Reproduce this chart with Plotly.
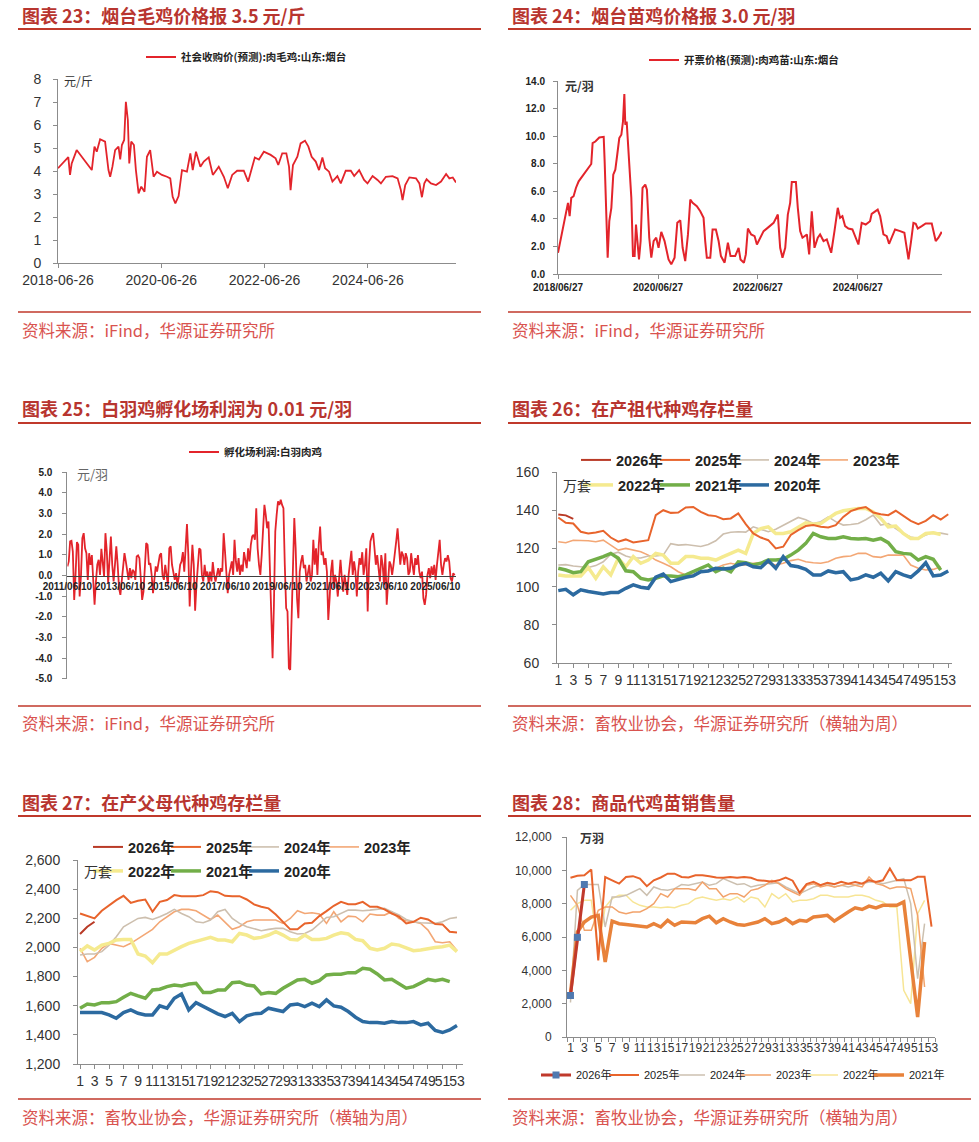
import plotly.graph_objects as go
import pandas as pd

# ---------------- DATA ----------------
# Panel 23: 社会收购价(预测):肉毛鸡:山东:烟台 (元/斤)
p23_dates = ["2018-06-26","2018-09-07","2018-09-19","2018-10-01","2018-11-05","2019-02-20","2019-03-11","2019-03-27","2019-04-20","2019-05-25",
             "2019-06-18","2019-06-30","2019-07-16","2019-08-04","2019-08-28","2019-09-09","2019-09-21","2019-10-07","2019-10-19","2019-11-02",
             "2019-11-12","2019-11-26","2019-12-15","2019-12-29","2020-01-17","2020-02-05","2020-02-28","2020-03-16","2020-04-08","2020-04-20",
             "2020-05-02","2020-05-26","2020-06-30","2020-08-05","2020-08-28","2020-09-14","2020-10-03","2020-10-26","2020-11-19","2020-12-24",
             "2021-01-17","2021-02-03","2021-02-26","2021-03-29","2021-04-22","2021-05-27","2021-06-25","2021-08-06","2021-09-11","2021-10-09",
             "2021-11-09","2021-12-14","2022-01-30","2022-03-02","2022-04-18","2022-05-17","2022-06-21","2022-08-08","2022-09-12","2022-10-01",
             "2022-10-29","2022-11-27","2022-12-16","2022-12-27","2023-01-13","2023-02-13","2023-03-08","2023-04-08","2023-05-02","2023-05-25",
             "2023-06-23","2023-07-16","2023-08-09","2023-08-28","2023-09-25","2023-10-19","2023-11-23","2023-12-17","2024-01-21","2024-02-26",
             "2024-03-21","2024-04-25","2024-05-30","2024-06-23","2024-07-29","2024-09-02","2024-09-26","2024-10-31","2024-12-17","2025-01-22",
             "2025-02-14","2025-02-26","2025-03-17","2025-04-15","2025-06-01","2025-06-25","2025-07-13","2025-07-30","2025-08-15","2025-09-15",
             "2025-10-21","2025-11-25","2025-12-31","2026-01-23","2026-02-16","2026-03-11"]
p23_vals = [4.12,4.6,3.83,4.33,4.91,4.04,5.06,4.84,5.38,5.28,
            4.04,3.75,4.19,4.91,5.06,4.5,5.13,5.35,7.01,6.22,
            4.33,5.28,5.13,4.04,3.03,3.32,3.1,4.62,4.91,4.41,
            3.75,3.97,3.83,3.75,3.68,2.88,2.59,2.91,4.04,3.97,
            4.77,4.04,4.84,4.19,4.41,4.59,3.83,4.19,3.75,3.25,
            3.83,4.01,4.01,3.54,4.59,4.5,4.84,4.7,4.55,4.26,
            4.77,4.77,4.19,3.17,4.26,4.62,5.2,5.32,5.06,4.62,
            4.41,4.04,4.59,4.12,3.97,3.54,3.78,3.46,4.01,4.01,
            3.78,4.04,3.61,3.46,3.78,3.61,3.46,3.75,3.78,3.68,
            3.17,2.74,3.39,3.72,3.68,3.46,2.86,3.46,3.64,3.46,
            3.39,3.54,3.87,3.68,3.72,3.5]
p23_ticks = ["2018-06-26","2020-06-26","2022-06-26","2024-06-26"]

# Panel 24: 开票价格(预测):肉鸡苗:山东:烟台 (元/羽)
p24_dates = ["2018-06-27","2018-09-08","2018-09-20","2018-10-02","2018-10-19","2018-11-05","2018-11-25","2019-02-25","2019-03-07","2019-03-27",
             "2019-04-25","2019-05-27","2019-06-03","2019-06-25","2019-07-07","2019-07-22","2019-08-05","2019-08-20","2019-09-03","2019-09-18",
             "2019-10-03","2019-10-15","2019-10-25","2019-11-01","2019-11-11","2019-11-20","2019-12-02","2019-12-15","2019-12-27","2020-01-08",
             "2020-01-18","2020-01-30","2020-02-09","2020-02-21","2020-03-06","2020-03-26","2020-04-07","2020-04-24","2020-05-09","2020-05-26",
             "2020-06-14","2020-07-01","2020-07-21","2020-08-14","2020-09-12","2020-10-02","2020-10-26","2020-11-15","2020-12-07","2020-12-24",
             "2021-01-12","2021-02-01","2021-02-18","2021-03-07","2021-04-07","2021-05-02","2021-05-26","2021-06-07","2021-06-19","2021-07-14",
             "2021-07-31","2021-08-24","2021-09-13","2021-09-30","2021-10-27","2021-11-20","2021-12-09","2022-01-12","2022-02-06","2022-02-20",
             "2022-03-17","2022-03-31","2022-04-15","2022-05-09","2022-06-03","2022-06-20","2022-07-14","2022-08-08","2022-09-13","2022-10-20",
             "2022-11-20","2022-12-07","2022-12-24","2023-01-13","2023-02-01","2023-02-18","2023-03-02","2023-04-01","2023-04-15","2023-05-02",
             "2023-05-19","2023-06-20","2023-07-07","2023-07-26","2023-08-15","2023-09-08","2023-09-25","2023-10-20","2023-11-13","2023-12-15",
             "2024-01-08","2024-02-01","2024-02-18","2024-03-06","2024-03-26","2024-04-19","2024-05-18","2024-06-14","2024-07-01","2024-07-25",
             "2024-08-23","2024-09-24","2024-10-06","2024-11-19","2024-12-07","2024-12-31","2025-01-24","2025-02-10","2025-03-07","2025-03-26",
             "2025-05-02","2025-06-02","2025-06-19","2025-07-02","2025-07-21","2025-08-07","2025-08-24","2025-09-08","2025-10-07","2025-11-05",
             "2025-12-19","2025-12-31","2026-01-17","2026-02-06","2026-03-02"]
p24_vals = [1.54,5.16,4.19,5.52,5.64,6.24,6.72,7.98,9.49,9.61,
            9.9,9.95,8.17,1.18,3.83,4.8,7.2,7.57,8.65,9.86,
            10.1,11.06,13.06,10.82,11.06,9.61,7.2,5.52,1.3,1.3,
            3.59,1.9,1.06,2.39,6.24,6.48,6.12,2.63,1.18,2.39,
            2.63,1.9,3.06,2.39,1.06,0.7,1.18,3.71,3.9,1.9,
            0.94,2.87,5.4,5.16,4.92,4.55,4.07,2.39,1.18,1.18,
            3.23,3.23,2.39,1.3,0.82,2.27,1.3,1.3,1.9,1.06,
            0.82,1.42,3.3,2.87,2.75,2.14,2.63,3.11,3.4,3.71,
            4.31,1.9,1.18,1.9,4.31,5.16,6.67,6.67,4.8,3.11,
            2.63,2.87,1.42,4.55,1.9,2.63,2.87,2.39,2.51,1.54,
            3.11,4.8,4.07,4.19,3.47,3.3,3.23,2.63,2.14,3.71,
            3.59,3.83,4.36,4.67,4.19,2.87,2.75,2.19,2.87,3.23,
            3.11,2.99,1.9,1.06,2.39,3.71,3.64,3.3,3.47,3.66,
            3.66,3.11,2.39,2.63,3.06]
p24_ticks = ["2018-06-27","2020-06-27","2022-06-27","2024-06-27"]

# Panel 25: 孵化场利润:白羽肉鸡 (元/羽), sampled evenly from 2011-06-10 to 2026-03
p25_start, p25_end = "2011-06-10", "2026-03-05"
p25_vals = [0.44,0.68,1.65,1.68,1.16,-1.18,0.03,1.62,1.49,-1.02,0.0,1.81,2.05,1.32,1.08,-0.21,1.08,0.52,0.99,-0.45,
            -1.42,-0.29,0.52,0.76,0.03,1.29,0.52,-0.05,2.05,1.16,-0.37,1.16,1.89,0.52,-0.29,0.52,1.41,0.52,-0.61,-0.94,
            -0.13,0.52,1.08,0.68,0.19,-0.21,0.36,-0.13,0.27,0.19,-0.21,0.92,0.97,0.84,-0.13,-1.18,-0.78,0.68,1.57,1.49,
            0.52,0.6,0.03,-0.86,-0.13,0.44,0.19,0.52,0.99,1.08,0.03,-0.21,0.52,0.03,-0.45,1.32,1.41,0.52,0.19,-0.21,
            0.11,-0.45,-0.05,0.52,0.68,1.13,0.19,1.16,2.49,0.99,-1.5,0.19,1.49,0.52,-1.71,-0.45,0.52,1.32,1.24,0.03,
            -0.29,0.52,-0.05,0.19,-0.37,0.19,-0.29,0.65,0.03,-0.29,0.03,0.36,-0.05,0.36,0.19,2.05,1.16,-0.13,-0.86,0.03,
            0.36,0.68,0.03,1.73,0.68,0.19,0.84,0.03,0.52,0.19,1.13,0.68,0.36,1.32,0.68,
            1.49,1.89,1.97,1.73,3.26,1.32,0.52,0.03,0.99,2.54,3.42,2.94,2.29,2.62,0.52,-1.1,-4.01,-1.42,2.13,2.94,
            3.59,3.42,3.67,3.42,3.26,0.52,-1.58,-1.74,-4.49,-4.57,-2.39,0.99,2.78,1.32,-1.1,-2.07,0.19,0.68,0.99,0.36,
            0.52,-0.29,0.11,0.52,-0.29,0.03,1.73,0.52,1.32,0.03,1.49,2.37,0.99,1.16,0.52,0.84,0.19,-2.15,-1.1,0.19,
            0.76,-0.61,0.03,-0.29,-1.02,0.19,0.76,-0.13,-0.78,0.03,-0.45,-0.94,0.03,0.68,1.2,0.03,0.68,0.19,-1.02,0.19,
            0.84,0.52,1.13,0.03,0.52,1.32,-1.74,0.52,1.65,1.89,2.05,1.32,0.52,0.99,0.19,-0.29,0.99,0.52,-0.45,1.08,
            -1.42,-0.13,0.68,0.52,0.03,0.52,0.99,1.65,2.29,1.49,0.52,1.16,0.99,0.52,1.08,0.84,0.03,0.19,1.08,0.52,
            0.03,0.84,0.52,0.99,0.19,-0.13,0.19,-1.1,-1.42,-0.94,0.03,0.36,-0.13,0.44,0.03,0.52,-0.21,0.52,1.16,1.73,
            0.52,0.03,0.52,0.84,0.68,0.99,0.68,-0.13,-0.29,0.11,0.01]
p25_ticks = ["2011-06-10","2013-06-10","2015-06-10","2017-06-10","2019-06-10","2021-06-10","2023-06-10","2025-06-10"]

years = ["2026年","2025年","2024年","2023年","2022年","2021年","2020年"]
weeks = list(range(1, 54))

# Panel 26: 在产祖代种鸡存栏量 (万套), by week
gp = {
 "2026年": [137.8,137.3,135.5],
 "2025年": [136.2,133.4,133.0,128.7,127.8,128.3,129.2,125.7,123.5,124.7,123.1,123.8,124.3,137.4,140.0,138.6,138.8,141.4,141.7,139.1,
            137.4,136.9,135.3,135.7,138.3,132.7,127.8,125.7,124.3,120.0,120.9,127.0,129.6,131.7,132.2,131.3,131.0,132.2,136.5,139.5,
            140.9,141.7,138.8,137.9,137.4,139.7,137.0,134.4,132.7,134.4,137.4,135.1,137.9],
 "2024年": [111.3,111.5,110.8,110.4,110.0,111.0,113.0,117.0,118.0,116.0,115.0,115.0,116.0,116.0,116.5,122.5,121.7,122.0,121.5,121.0,
            122.0,124.0,127.5,128.5,128.7,128.5,131.3,130.0,128.7,130.0,132.0,134.0,136.2,135.0,133.0,134.0,136.5,134.0,132.2,132.5,
            133.0,135.0,137.4,132.2,133.0,130.4,127.8,126.0,125.2,127.0,128.3,128.0,127.3],
 "2023年": [123.5,123.0,124.3,124.3,124.0,123.5,124.3,121.7,119.1,120.0,119.1,118.3,116.5,113.9,112.2,110.4,107.8,106.1,106.1,107.8,
            108.7,109.6,111.3,112.2,111.3,111.3,112.2,112.5,112.2,111.3,112.2,113.6,114.3,113.0,112.5,112.2,113.0,114.8,115.7,116.0,
            117.4,117.4,115.7,115.3,116.5,116.5,116.5,111.3,109.6,108.7,109.0,110.4],
 "2022年": [106.1,105.6,105.6,105.6,110.0,104.3,110.4,106.1,114.8,110.4,115.7,112.2,113.9,117.4,116.5,112.2,112.2,115.7,115.7,114.8,
            114.8,113.9,115.7,117.4,119.1,117.4,127.8,130.4,131.3,127.8,127.8,128.7,131.3,133.4,132.7,133.0,135.7,138.3,139.7,140.3,
            140.9,140.9,139.1,135.7,131.3,131.7,127.8,125.2,125.2,127.8,128.2,127.3],
 "2021年": [109.6,108.7,107.3,107.8,113.0,114.3,115.7,117.4,114.8,108.3,107.8,104.3,103.5,104.3,105.6,105.6,105.2,106.1,107.8,109.6,
            111.3,107.8,109.6,107.8,113.0,112.5,111.3,112.2,113.9,113.9,114.3,116.5,119.1,122.6,127.8,126.1,125.2,125.2,126.1,125.2,
            124.9,125.2,124.3,125.2,123.0,118.3,117.4,117.0,113.9,115.7,114.3,108.7],
 "2020年": [97.9,98.6,95.7,98.3,97.4,96.9,96.2,96.9,96.9,99.1,100.9,99.7,99.1,104.9,106.6,102.6,103.8,104.9,105.6,107.8,
            108.2,109.6,109.2,109.6,111.3,112.2,110.4,109.9,113.6,109.6,115.7,111.0,110.4,109.0,106.1,106.1,108.2,107.3,107.8,103.5,
            104.3,106.1,104.9,107.0,103.0,107.8,106.1,104.9,108.2,112.5,105.6,106.1,108.2],
}

# Panel 27: 在产父母代种鸡存栏量 (万套)
pp = {
 "2026年": [2092,2142,2176],
 "2025年": [2233,2217,2199,2252,2290,2325,2354,2306,2320,2329,2245,2313,2325,2359,2352,2352,2352,2359,2386,2379,
            2354,2352,2352,2329,2295,2279,2268,2226,2176,2124,2124,2165,2169,2215,2249,2286,2313,2297,2297,2313,
            2279,2279,2261,2233,2211,2165,2176,2204,2192,2160,2158,2108,2103],
 "2024年": [1948,1955,1955,1971,2016,2074,2142,2169,2199,2206,2192,2211,2233,2261,2233,2211,2176,2169,2188,2245,
            2261,2199,2165,2142,2131,2115,2124,2131,2131,2108,2092,2096,2119,2165,2206,2211,2233,2256,2256,2252,
            2256,2261,2268,2245,2222,2192,2176,2169,2169,2165,2176,2199,2206],
 "2023年": [1994,1902,1932,1994,2028,2017,2005,2028,2062,2096,2124,2176,2211,2245,2261,2261,2252,2222,2192,2222,
            2176,2124,2142,2176,2188,2188,2188,2188,2165,2199,2252,2233,2238,2229,2165,2245,2176,2215,2211,2176,
            2229,2222,2222,2245,2199,2183,2176,2165,2119,2039,2032,2039,1978],
 "2022年": [1971,2010,1982,2016,2028,2051,2055,2055,1955,1941,1895,1955,1955,1982,2005,2028,2039,2055,2069,2051,
            2051,2039,2096,2085,2062,2069,2085,2108,2085,2055,2051,2085,2055,2055,2062,2085,2101,2092,2055,2046,
            1994,1982,1994,2023,2016,1994,1978,1982,1994,2000,2005,2016,1971],
 "2021年": [1583,1612,1605,1621,1621,1628,1658,1685,1667,1651,1708,1713,1731,1742,1736,1749,1754,1690,1690,1708,
            1708,1758,1763,1742,1736,1681,1690,1685,1720,1749,1777,1781,1754,1772,1811,1816,1816,1827,1827,1857,
            1850,1818,1777,1781,1749,1720,1731,1758,1781,1772,1781,1765],
 "2020年": [1553,1553,1553,1553,1537,1514,1553,1571,1548,1537,1537,1599,1583,1651,1681,1571,1621,1594,1567,1544,
            1526,1548,1491,1530,1544,1548,1583,1571,1560,1605,1612,1594,1617,1594,1640,1599,1590,1560,1521,1491,
            1484,1484,1480,1491,1484,1484,1491,1468,1480,1430,1416,1434,1464],
}

# Panel 28: 商品代鸡苗销售量 (万羽)
cs = {
 "2026年": [2490,5980,9150],
 "2025年": [9550,9670,9700,10050,4600,9600,9400,9200,9600,9650,9500,9050,9400,9570,9800,9800,9600,9570,9700,9700,
            9650,9570,9550,9600,9550,9600,9550,9400,9370,9320,9400,9570,9380,8650,9170,9310,9110,9250,9170,9310,
            9200,9300,9200,9410,9300,9400,10110,9410,9400,9400,9610,9610,6620],
 "2024年": [2070,8800,9150,9150,9150,6600,8400,8400,8500,8700,8900,8500,9000,8850,8800,8900,9150,9100,9200,9300,
            9100,9200,9500,9300,9150,9200,9000,9100,9150,9200,9250,9000,8800,8600,8800,9000,9100,9200,9000,9100,
            9000,9100,9200,9300,9300,9200,9300,9400,9500,8000,3500,6800],
 "2023年": [8500,7900,6400,6400,7600,7800,7800,7500,7400,7500,7500,7700,8000,8600,8400,8900,8900,8900,8800,9300,
            8900,8900,8400,8600,8600,8400,8800,8900,9100,9400,9200,8900,8700,8500,9100,9200,9000,9100,9000,9100,
            9200,9100,9000,9600,9200,9100,8900,9000,9000,8900,7300,3000],
 "2022年": [7600,8000,8200,8200,5200,7800,8300,8500,8500,8100,7900,7800,7800,7750,7800,7750,7900,8000,8300,8400,
            8300,8200,8300,8200,8400,8100,8400,8300,7800,8600,8300,8600,8100,8200,8200,8300,8500,8500,8400,8400,
            8400,8500,8500,8400,8200,8100,7800,7800,2800,2000,7400,8200],
 "2021年": [2600,6300,6900,7200,7300,4500,6950,6800,6750,6700,6650,6600,6800,6600,7000,6700,6900,6900,6850,7100,
            7250,6850,7100,6900,6750,6700,6800,6900,7100,6800,6900,7100,6800,7000,6950,7200,7250,7300,6950,7250,
            7500,7750,7650,7850,7750,7900,7900,7900,8100,4600,1200,5700],
}

# ---------------- STYLE ----------------
W, H = 979, 1142
def fx(p): return p / W
def fy(p): return 1 - p / H

FONT = "Liberation Sans, Noto Sans CJK SC, sans-serif"
CJK = "Noto Sans CJK SC, sans-serif"
RED = "#E3242B"
TITLE_C = "#B8352F"
SRC_C = "#D9534F"
AX = "#8C8C8C"
TXT = "#333333"

col26 = {"2026年": "#B93A26", "2025年": "#E8642C", "2024年": "#CDBFAE", "2023年": "#F3A775",
         "2022年": "#F5EA8F", "2021年": "#72AE48", "2020年": "#2C6AA0"}
wid26 = {"2026年": 2, "2025年": 2, "2024年": 1.6, "2023年": 1.6, "2022年": 3.5, "2021年": 3.5, "2020年": 3.5}
col28 = {"2026年": "#C0392B", "2025年": "#E8642C", "2024年": "#CCC0B0", "2023年": "#F2A36B",
         "2022年": "#F7E595", "2021年": "#E8823A"}
wid28 = {"2026年": 3, "2025年": 2, "2024年": 1.5, "2023年": 1.5, "2022年": 1.5, "2021年": 3.5}

legends = {}
_leg_count = [0]
def new_leg(xline, yc, size, bold, family=FONT):
    _leg_count[0] += 1
    key = "legend" if _leg_count[0] == 1 else "legend%d" % _leg_count[0]
    legends[key] = dict(x=fx(xline), y=fy(yc), xanchor="left", yanchor="middle", orientation="h",
                        bgcolor="rgba(0,0,0,0)", borderwidth=0, itemwidth=30, tracegroupgap=0,
                        font=dict(family=family, size=size, color="#222222", weight=700 if bold else 400))
    return key

fig = go.Figure()

fig.add_trace(go.Scatter(x=p23_dates, y=p23_vals, mode="lines", line=dict(color=RED, width=1.8),
                         name="社会收购价(预测):肉毛鸡:山东:烟台", xaxis="x", yaxis="y",
                         legend=new_leg(141, 57, 10.5, True, CJK)))
fig.add_trace(go.Scatter(x=p24_dates, y=p24_vals, mode="lines", line=dict(color=RED, width=2),
                         name="开票价格(预测):肉鸡苗:山东:烟台", xaxis="x2", yaxis="y2",
                         legend=new_leg(644, 60, 10.5, True, CJK)))
p25_dates = pd.date_range(p25_start, p25_end, periods=len(p25_vals))
fig.add_trace(go.Scatter(x=p25_dates, y=p25_vals, mode="lines", line=dict(color=RED, width=1.8),
                         name="孵化场利润:白羽肉鸡", xaxis="x3", yaxis="y3",
                         legend=new_leg(184, 452, 10.5, True, CJK)))

# legend entry positions (page px) for the yearly charts
pos26 = {"2026年": (576, 460), "2025年": (655, 460), "2024年": (734, 460), "2023年": (813, 460),
         "2022年": (578, 485), "2021年": (655, 485), "2020年": (734, 485)}
pos27 = {"2026年": (88, 847), "2025年": (166, 847), "2024年": (244, 847), "2023年": (324, 847),
         "2022年": (88, 871), "2021年": (166, 871), "2020年": (244, 871)}
pos28 = {"2026年": (536, 1075), "2025年": (604, 1075), "2024年": (670, 1075), "2023年": (736, 1075),
         "2022年": (803, 1075), "2021年": (869, 1075)}

order26 = ["2023年", "2024年", "2022年", "2021年", "2020年", "2025年", "2026年"]
for y in order26:
    fig.add_trace(go.Scatter(x=weeks[:len(gp[y])], y=gp[y], mode="lines", name=y,
                             line=dict(color=col26[y], width=wid26[y]), xaxis="x4", yaxis="y4",
                             legend=new_leg(*pos26[y], 14.5, True)))
for y in order26:
    fig.add_trace(go.Scatter(x=weeks[:len(pp[y])], y=pp[y], mode="lines", name=y,
                             line=dict(color=col26[y], width=wid26[y]), xaxis="x5", yaxis="y5",
                             legend=new_leg(*pos27[y], 14.5, True)))

order28 = ["2022年", "2024年", "2023年", "2021年", "2025年", "2026年"]
for y in order28:
    if y == "2026年":
        kw = dict(mode="lines+markers", marker=dict(symbol="square", size=7, color="#4F79B0"))
    else:
        kw = dict(mode="lines")
    fig.add_trace(go.Scatter(x=weeks[:len(cs[y])], y=cs[y], name=y,
                             line=dict(color=col28[y], width=wid28[y]), xaxis="x6", yaxis="y6",
                             legend=new_leg(*pos28[y], 11, False), **kw))

def ax(**kw):
    d = dict(showline=True, linecolor=AX, linewidth=1, showgrid=False, zeroline=False, automargin=False,
             ticks="outside", ticklen=4, tickcolor=AX, tickangle=0, fixedrange=True)
    d.update(kw)
    return d

bold10 = dict(family=FONT, size=10, color="#222222", weight=700)
odd = list(range(1, 54, 2))

fig.update_layout(
    xaxis=ax(domain=[fx(58), fx(456)], anchor="y", type="date", range=["2018-06-26", "2026-03-11"],
             tickvals=p23_ticks, ticktext=p23_ticks, tickfont=dict(family=FONT, size=14, color=TXT)),
    yaxis=ax(domain=[fy(263), fy(79)], anchor="x", range=[0, 8], dtick=1,
             tickfont=dict(family=FONT, size=14, color=TXT), ticklabelstandoff=9),
    xaxis2=ax(domain=[fx(558), fx(942)], anchor="y2", type="date", range=["2018-06-27", "2026-03-04"],
              tickvals=p24_ticks, ticktext=[t.replace("-", "/") for t in p24_ticks], tickfont=bold10),
    yaxis2=ax(domain=[fy(274), fy(81)], anchor="x2", range=[0, 14], dtick=2, tickformat=".1f",
              tickfont=bold10, ticklabelstandoff=6),
    xaxis3=ax(domain=[fx(67.4), fx(456)], anchor="free", position=fy(575.7), type="date",
              range=["2011-06-10", "2026-03-24"], tickvals=p25_ticks,
              ticktext=[t.replace("-", "/") for t in p25_ticks], ticks="", tickfont=bold10,
              linecolor="#404040", ticklabelstandoff=1),
    yaxis3=ax(domain=[fy(678.7), fy(472.3)], anchor="x3", range=[-5, 5],
              tickvals=list(range(5, -6, -1)), ticktext=["%.1f" % v for v in range(5, -6, -1)],
              tickfont=bold10, ticklabelstandoff=8),
    xaxis4=ax(domain=[fx(557), fx(952)], anchor="y4", range=[0.83, 53.5], tickvals=odd,
              ticktext=[str(v) for v in odd], tickfont=dict(family=FONT, size=14, color=TXT)),
    yaxis4=ax(domain=[fy(663), fy(472)], anchor="x4", range=[60, 160], dtick=20,
              tickfont=dict(family=FONT, size=14, color=TXT), ticklabelstandoff=10),
    xaxis5=ax(domain=[fx(78), fx(463)], anchor="y5", range=[0.72, 53.83], tickvals=odd,
              ticktext=[str(v) for v in odd], tickfont=dict(family=FONT, size=14, color=TXT)),
    yaxis5=ax(domain=[fy(1064), fy(860)], anchor="x5", range=[1200, 2600], dtick=200, tickformat=",d",
              tickfont=dict(family=FONT, size=14, color=TXT), ticklabelstandoff=10),
    xaxis6=ax(domain=[fx(567), fx(935)], anchor="y6", range=[0.5, 53.5], tickvals=odd,
              ticktext=[str(v) for v in odd], ticks="", tickfont=dict(family=FONT, size=12, color=TXT),
              minor=dict(tick0=0.5, dtick=1, ticks="outside", ticklen=4, tickcolor=AX)),
    yaxis6=ax(domain=[fy(1037), fy(837)], anchor="x6", range=[0, 12000], dtick=2000, tickformat=",d",
              tickfont=dict(family=FONT, size=12, color=TXT), ticklabelstandoff=8),
)

fig.update_layout(**legends)

annotations = []
def txt(xp, yp, s, size, color, bold=False, family=CJK, anchor="left"):
    annotations.append(dict(x=fx(xp), y=fy(yp), xref="paper", yref="paper", text=s, showarrow=False,
                            xanchor=anchor, yanchor="middle",
                            font=dict(family=family, size=size, color=color, weight=700 if bold else 400)))

titles = [(20, 15, "图表 23：烟台毛鸡价格报 3.5 元/斤"), (510, 15, "图表 24：烟台苗鸡价格报 3.0 元/羽"),
          (20, 408, "图表 25：白羽鸡孵化场利润为 0.01 元/羽"), (510, 408, "图表 26：在产祖代种鸡存栏量"),
          (20, 802, "图表 27：在产父母代种鸡存栏量"), (510, 802, "图表 28：商品代鸡苗销售量")]
for xp, yp, s in titles:
    txt(xp, yp, s, 18, TITLE_C, bold=True)

src1 = "资料来源：iFind，华源证券研究所"
src2 = "资料来源：畜牧业协会，华源证券研究所（横轴为周）"
for xp, yp, s in [(20, 330, src1), (510, 330, src1), (20, 723, src1), (510, 723, src2),
                  (20, 1117, src2), (510, 1117, src2)]:
    txt(xp, yp, s, 16.5, SRC_C)

txt(62, 81, "元/斤", 12, TXT)
txt(563, 86, "元/羽", 12, TXT, bold=True)
txt(75, 473, "元/羽", 13, "#666666")
txt(561, 485, "万套", 14, TXT)
txt(82, 871, "万套", 14, TXT)
txt(578, 837, "万羽", 12, TXT, bold=True)

shapes = []
for yline, w in [(29, 2), (423, 2), (816, 2), (312, 1.5), (706, 1.5), (1099, 1.5)]:
    for x0, x1 in [(18, 481), (508, 971)]:
        shapes.append(dict(type="line", xref="paper", yref="paper", x0=fx(x0), x1=fx(x1),
                           y0=fy(yline), y1=fy(yline), line=dict(color="#C0392B", width=w)))

fig.update_layout(
    width=W, height=H, margin=dict(l=0, r=0, t=0, b=0, pad=0, autoexpand=False),
    paper_bgcolor="white", plot_bgcolor="white", showlegend=True,
    font=dict(family=FONT, color=TXT),
    annotations=annotations, shapes=shapes,
)

# remove the browser's default 8px body margin so the figure fills the window exactly
fig.write_html("out.html", config={"displayModeBar": False},
               post_script="document.body.style.margin='0';document.body.style.overflow='hidden';")
